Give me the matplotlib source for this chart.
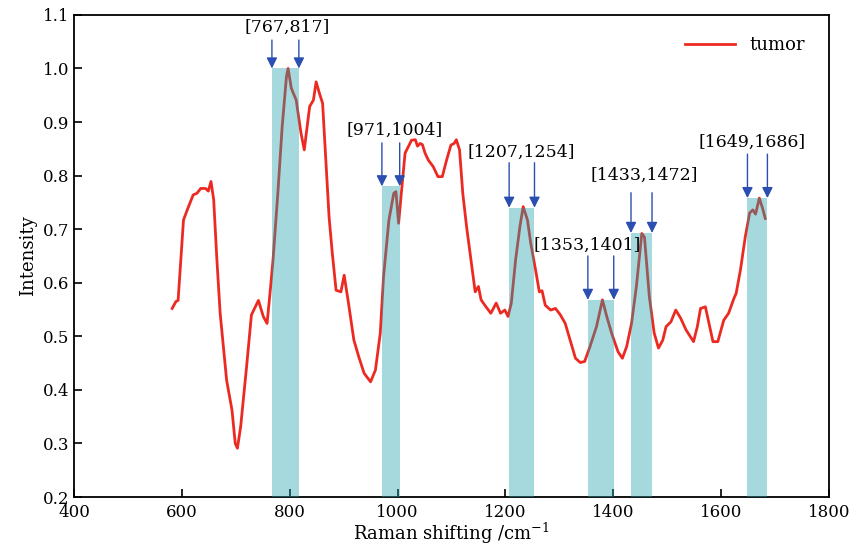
import matplotlib.pyplot as plt

plt.rcParams['font.family'] = ['DejaVu Serif Condensed', 'DejaVu Serif']
plt.rcParams['mathtext.fontset'] = 'dejavuserif'

# spectrum
shift = [582, 589, 593, 603, 610, 621, 628, 635, 644, 649, 654, 659, 665, 671,
         683, 693, 699, 703, 709, 720, 729, 742, 751, 758, 764, 769, 778, 786,
         794, 797, 803, 812, 821, 827, 837, 844, 849, 855, 861, 867, 873, 879,
         886, 895, 901, 909, 919, 928, 938, 950, 959, 968, 974, 984, 993, 997,
         1002, 1007, 1014, 1020, 1026, 1033, 1037, 1042, 1046, 1051, 1057, 1066,
         1075, 1083, 1091, 1099, 1105, 1109, 1115, 1121, 1128, 1137, 1144, 1150,
         1155, 1164, 1173, 1183, 1191, 1199, 1205, 1211, 1219, 1227, 1233, 1241,
         1247, 1256, 1263, 1268, 1274, 1284, 1293, 1302, 1311, 1320, 1330, 1339,
         1347, 1357, 1369, 1380, 1388, 1397, 1409, 1417, 1425, 1434, 1443, 1453,
         1458, 1467, 1476, 1484, 1492, 1498, 1507, 1516, 1525, 1535, 1549, 1556,
         1562, 1571, 1577, 1585, 1594, 1605, 1614, 1624, 1628, 1636, 1645, 1653,
         1659, 1664, 1671, 1677, 1682]
intensity = [0.552, 0.565, 0.567, 0.717, 0.736, 0.764, 0.767, 0.776, 0.776, 0.771,
             0.789, 0.755, 0.642, 0.543, 0.418, 0.362, 0.300, 0.291, 0.331, 0.443,
             0.540, 0.567, 0.537, 0.524, 0.586, 0.642, 0.767, 0.891, 0.985, 1.000,
             0.963, 0.941, 0.879, 0.848, 0.929, 0.941, 0.975, 0.954, 0.935, 0.829,
             0.723, 0.655, 0.586, 0.583, 0.614, 0.562, 0.493, 0.462, 0.431, 0.415,
             0.437, 0.506, 0.611, 0.717, 0.767, 0.770, 0.711, 0.767, 0.842, 0.854,
             0.866, 0.867, 0.855, 0.860, 0.858, 0.842, 0.829, 0.817, 0.798, 0.798,
             0.829, 0.857, 0.860, 0.867, 0.848, 0.767, 0.705, 0.636, 0.583, 0.593,
             0.568, 0.555, 0.543, 0.562, 0.543, 0.549, 0.537, 0.562, 0.643, 0.705,
             0.742, 0.717, 0.674, 0.624, 0.583, 0.585, 0.558, 0.549, 0.552, 0.540,
             0.524, 0.493, 0.459, 0.451, 0.453, 0.481, 0.518, 0.568, 0.537, 0.506,
             0.471, 0.459, 0.481, 0.524, 0.593, 0.692, 0.685, 0.574, 0.506, 0.478,
             0.493, 0.518, 0.527, 0.549, 0.534, 0.512, 0.490, 0.518, 0.552, 0.555,
             0.527, 0.490, 0.490, 0.530, 0.543, 0.571, 0.580, 0.624, 0.686, 0.730,
             0.736, 0.728, 0.758, 0.739, 0.720]

# highlighted ranges
band_lo = [767, 971, 1207, 1353, 1433, 1649]
band_hi = [817, 1004, 1254, 1401, 1472, 1686]
band_top = [1.0, 0.78, 0.74, 0.568, 0.693, 0.758]
band_names = ['[767,817]', '[971,1004]', '[1207,1254]', '[1353,1401]',
              '[1433,1472]', '[1649,1686]']

# label placement (layout)
label_x = [795, 995, 1229, 1352, 1458, 1657]
label_y = [1.077, 0.885, 0.844, 0.670, 0.801, 0.863]
arrow_len = [0.053, 0.081, 0.084, 0.082, 0.075, 0.082]

fig = plt.figure(figsize=(8.51, 5.51), dpi=100)
ax = fig.add_axes([0.087, 0.098, 0.887, 0.875])

ax.plot(shift, intensity, color='#EC2A22', lw=2, label='tumor', zorder=2)

for lo, hi, top in zip(band_lo, band_hi, band_top):
    ax.bar(lo, top - 0.2, width=hi - lo, bottom=0.2, align='edge',
           color='#20A2AC', alpha=0.4, lw=0, zorder=3)

for i in range(len(band_names)):
    ax.text(label_x[i], label_y[i], band_names[i], ha='center', va='center',
            fontsize=12.5, zorder=4)
    for xa in (band_lo[i], band_hi[i]):
        ax.annotate('', xy=(xa, band_top[i]), xytext=(xa, band_top[i] + arrow_len[i]),
                    arrowprops=dict(arrowstyle='-|>', color='#2A4FB0', lw=1,
                                    mutation_scale=16, shrinkA=0, shrinkB=0),
                    zorder=4)

ax.set_xlim(400, 1800)
ax.set_ylim(0.2, 1.1)
ax.set_xticks(range(400, 1801, 200))
ax.set_yticks([0.2, 0.3, 0.4, 0.5, 0.6, 0.7, 0.8, 0.9, 1.0, 1.1])
ax.set_yticklabels(['0.2', '0.3', '0.4', '0.5', '0.6', '0.7', '0.8', '0.9', '1.0', '1.1'])
ax.tick_params(direction='in', length=6, width=1.2, labelsize=12)
ax.tick_params(axis='x', pad=5)
for s in ax.spines.values():
    s.set_linewidth(1.3)

ax.set_xlabel(r'Raman shifting /cm$^{-1}$', fontsize=13, labelpad=0)
ax.set_ylabel('Intensity', fontsize=13, labelpad=4)
ax.legend(loc='upper right', frameon=False, fontsize=13, handlelength=2.8,
          bbox_to_anchor=(0.99, 0.99))

fig.savefig('out.png', dpi=100)
